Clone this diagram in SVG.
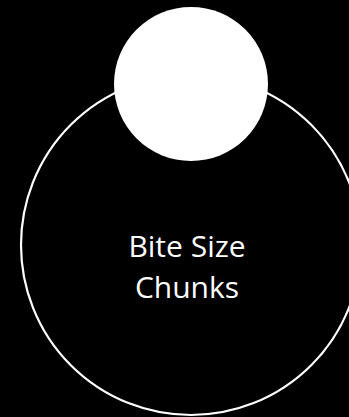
<svg xmlns="http://www.w3.org/2000/svg" width="349" height="417" viewBox="0 0 349 417">
<style>
.lbl{font-family:"Open Sans","Liberation Sans",Arial,sans-serif;font-size:30px;fill:#ffffff;text-anchor:middle}
</style>
<rect x="0" y="0" width="349" height="417" fill="#000000"/>
<g id="big-circle">
<circle cx="191" cy="245" r="170" fill="#000000" stroke="#ffffff" stroke-width="2.2"/>
<text class="lbl" x="187" y="257">Bite Size</text>
<text class="lbl" x="187" y="298">Chunks</text>
</g>
<g id="small-circle">
<circle cx="191" cy="84" r="77" fill="#ffffff"/>
</g>
<g id="connectors"></g>
</svg>
